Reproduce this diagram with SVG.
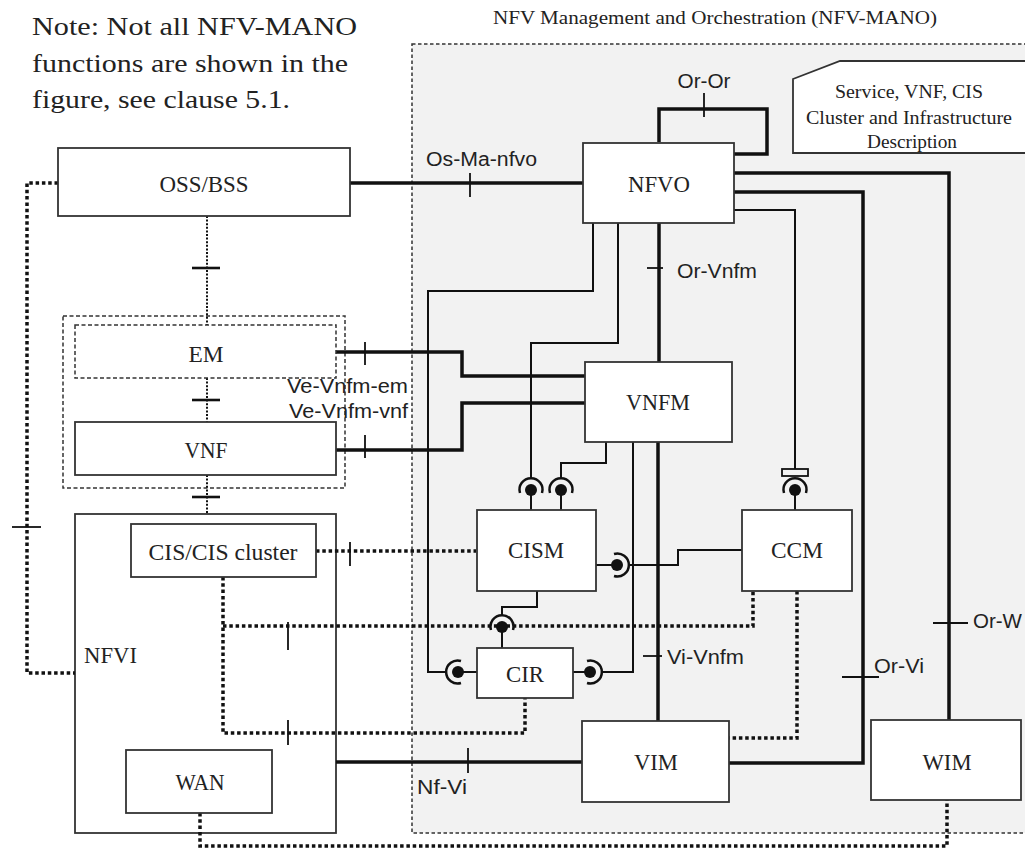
<svg xmlns="http://www.w3.org/2000/svg" width="1025" height="848" viewBox="0 0 1025 848">
<style>
.box{fill:#fff;stroke:#333;stroke-width:1.8}
.dbox{fill:#fff;stroke:#333;stroke-width:1.5;stroke-dasharray:4 2.5}
.serif{font-family:"Liberation Serif","Times New Roman",serif;fill:#222}
.sans{font-family:"Liberation Sans",Arial,sans-serif;fill:#222}
.thick{fill:none;stroke:#111;stroke-width:3.5}
.thin{fill:none;stroke:#111;stroke-width:2}
.dot{fill:none;stroke:#111;stroke-width:3.5;stroke-dasharray:3.5 2.8}
.fdot{fill:none;stroke:#111;stroke-width:2;stroke-dasharray:2 1.6}
.tick{fill:none;stroke:#111;stroke-width:1.8}
.btick{fill:none;stroke:#111;stroke-width:2.6}
</style>
<defs>
<g id="sock"><path d="M-11,3 A11.5,11.5 0 1 1 11,3" fill="none" stroke="#111" stroke-width="2.5"/><circle r="6" fill="#111"/></g>
</defs>
<rect x="0" y="0" width="1025" height="848" fill="#fff"/>

<g id="note">
<text class="serif" x="32" y="35" font-size="25" textLength="325" lengthAdjust="spacingAndGlyphs">Note: Not all NFV-MANO</text>
<text class="serif" x="32" y="72" font-size="25" textLength="316" lengthAdjust="spacingAndGlyphs">functions are shown in the</text>
<text class="serif" x="32" y="108" font-size="25" textLength="258" lengthAdjust="spacingAndGlyphs">figure, see clause 5.1.</text>
</g>

<g id="nfv-mano">
<rect x="412" y="44" width="700" height="789" fill="#f2f2f2" stroke="#333" stroke-width="1.5" stroke-dasharray="3.5 2.5"/>
<text class="serif" x="493" y="24" font-size="19" textLength="444" lengthAdjust="spacingAndGlyphs">NFV Management and Orchestration (NFV-MANO)</text>
</g>

<g id="descriptions">
<polygon points="793,79 840,61 1030,61 1030,153 793,153" fill="#fff" stroke="#333" stroke-width="1.8"/>
<text class="serif" x="909" y="98" font-size="19" text-anchor="middle" textLength="148" lengthAdjust="spacingAndGlyphs">Service, VNF, CIS</text>
<text class="serif" x="909" y="124" font-size="19" text-anchor="middle" textLength="206" lengthAdjust="spacingAndGlyphs">Cluster and Infrastructure</text>
<text class="serif" x="912" y="148" font-size="19" text-anchor="middle" textLength="90" lengthAdjust="spacingAndGlyphs">Description</text>
</g>

<g id="em-vnf-container">
<rect x="63" y="316" width="282" height="172" fill="none" stroke="#333" stroke-width="1.5" stroke-dasharray="4 2.5"/>
</g>

<g id="nfvi">
<rect class="box" x="75" y="514" width="261" height="319"/>
<text class="serif" x="84" y="663" font-size="24" textLength="53" lengthAdjust="spacingAndGlyphs">NFVI</text>
</g>

<g id="connectors">
<path class="thick" d="M350,183 H583"/>
<path class="thick" d="M659,142 V109 H767 V154 H734" stroke-width="4"/>
<path class="thick" d="M734,173 H949 V720"/>
<path class="thick" d="M734,192 H863 V763 H729"/>
<path class="thick" d="M659,223 V362"/>
<path class="thick" d="M658,442 V721"/>
<path class="thick" d="M336,352 H462 V376 H585"/>
<path class="thick" d="M336,450 H462 V403 H585"/>
<path class="thick" d="M336,762 H582"/>

<path class="thin" d="M593,223 V291 H428 V672 H446.5"/>
<path class="thin" d="M618,223 V343 H531 V478.5"/>
<path class="thin" d="M531,490 V510"/>
<path class="thin" d="M606,442 V463 H561 V478.5"/>
<path class="thin" d="M561,490 V510"/>
<path class="thin" d="M734,210 H795 V469"/>
<path class="thin" d="M795,490 V510"/>
<path class="thin" d="M596,565 H617"/>
<path class="thin" d="M628.5,565 H678 V550 H742"/>
<path class="thin" d="M537,591 V607 H502 V615.5"/>
<path class="thin" d="M502,627 V648"/>
<path class="thin" d="M477,672 H458"/>
<path class="thin" d="M573,672 H590"/>
<path class="thin" d="M601.5,672 H633 V442"/>

<path class="dot" d="M58,183 H27 V673 H75"/>
<path class="dot" d="M316,551 H476"/>
<path class="dot" d="M223,577 V733 H525 V698"/>
<path class="dot" d="M223,626 H753 V592"/>
<path class="dot" d="M797,591 V738 H729"/>
<path class="dot" d="M200,813 V846 H947 V800"/>

<path class="fdot" d="M207,216 V325"/>
<path class="fdot" d="M207,378 V422"/>
<path class="fdot" d="M207,475 V514"/>

<path class="tick" d="M470,173 V197"/>
<path class="tick" d="M704,93 V117"/>
<path class="tick" d="M647,268 H663"/>
<path class="tick" d="M643,656 H662"/>
<path class="tick" d="M933,623 H968"/>
<path class="tick" d="M842,677 H879"/>
<path class="tick" d="M468,748 V773"/>
<path class="tick" d="M365,342 V365"/>
<path class="tick" d="M365,435 V458"/>
<path class="tick" d="M350,542 V566"/>
<path class="tick" d="M288,622 V650"/>
<path class="tick" d="M288,720 V745"/>
<path class="tick" d="M12,527 H41"/>
<path class="btick" d="M192,268 H220"/>
<path class="btick" d="M192,400 H220"/>
<path class="btick" d="M192,497 H220"/>

<use href="#sock" transform="translate(531,490)"/>
<use href="#sock" transform="translate(561,490)"/>
<use href="#sock" transform="translate(795,490)"/>
<rect x="782" y="469" width="26" height="7" fill="#f2f2f2" stroke="#111" stroke-width="1.8"/>
<use href="#sock" transform="translate(617,565) rotate(90)"/>
<use href="#sock" transform="translate(502,627)"/>
<use href="#sock" transform="translate(458,672) rotate(-90)"/>
<use href="#sock" transform="translate(590,672) rotate(90)"/>

<text class="sans" x="426" y="166" font-size="20" textLength="111" lengthAdjust="spacingAndGlyphs">Os-Ma-nfvo</text>
<text class="sans" x="704" y="88" font-size="20" text-anchor="middle" textLength="53" lengthAdjust="spacingAndGlyphs">Or-Or</text>
<text class="sans" x="677" y="278" font-size="20" textLength="80" lengthAdjust="spacingAndGlyphs">Or-Vnfm</text>
<text class="sans" x="287" y="393" font-size="20" textLength="121" lengthAdjust="spacingAndGlyphs">Ve-Vnfm-em</text>
<text class="sans" x="289" y="418" font-size="20" textLength="119" lengthAdjust="spacingAndGlyphs">Ve-Vnfm-vnf</text>
<text class="sans" x="667" y="664" font-size="20" textLength="77" lengthAdjust="spacingAndGlyphs">Vi-Vnfm</text>
<text class="sans" x="973" y="628" font-size="20" textLength="49" lengthAdjust="spacingAndGlyphs">Or-W</text>
<text class="sans" x="874" y="673" font-size="20" textLength="50" lengthAdjust="spacingAndGlyphs">Or-Vi</text>
<text class="sans" x="417" y="794" font-size="20" textLength="50" lengthAdjust="spacingAndGlyphs">Nf-Vi</text>
</g>

<g id="oss-bss">
<rect class="box" x="58" y="148" width="292" height="68"/>
<text class="serif" x="204" y="192" font-size="24" text-anchor="middle" textLength="89" lengthAdjust="spacingAndGlyphs">OSS/BSS</text>
</g>
<g id="em">
<rect class="dbox" x="75" y="325" width="261" height="53"/>
<text class="serif" x="206" y="362" font-size="24" text-anchor="middle" textLength="35" lengthAdjust="spacingAndGlyphs">EM</text>
</g>
<g id="vnf">
<rect class="box" x="75" y="422" width="261" height="53"/>
<text class="serif" x="206" y="458" font-size="24" text-anchor="middle" textLength="43" lengthAdjust="spacingAndGlyphs">VNF</text>
</g>
<g id="cis-cluster">
<rect class="box" x="131" y="524" width="185" height="53"/>
<text class="serif" x="223" y="560" font-size="24" text-anchor="middle" textLength="149" lengthAdjust="spacingAndGlyphs">CIS/CIS cluster</text>
</g>
<g id="wan">
<rect class="box" x="126" y="750" width="146" height="63"/>
<text class="serif" x="200" y="790" font-size="24" text-anchor="middle" textLength="49" lengthAdjust="spacingAndGlyphs">WAN</text>
</g>
<g id="nfvo">
<rect class="box" x="583" y="143" width="151" height="80"/>
<text class="serif" x="659" y="192" font-size="24" text-anchor="middle" textLength="62" lengthAdjust="spacingAndGlyphs">NFVO</text>
</g>
<g id="vnfm">
<rect class="box" x="585" y="362" width="147" height="80"/>
<text class="serif" x="658" y="410" font-size="24" text-anchor="middle" textLength="64" lengthAdjust="spacingAndGlyphs">VNFM</text>
</g>
<g id="cism">
<rect class="box" x="477" y="510" width="119" height="81"/>
<text class="serif" x="536" y="558" font-size="24" text-anchor="middle" textLength="56" lengthAdjust="spacingAndGlyphs">CISM</text>
</g>
<g id="ccm">
<rect class="box" x="742" y="510" width="110" height="81"/>
<text class="serif" x="797" y="558" font-size="24" text-anchor="middle" textLength="52" lengthAdjust="spacingAndGlyphs">CCM</text>
</g>
<g id="cir">
<rect class="box" x="477" y="648" width="96" height="50"/>
<text class="serif" x="525" y="682" font-size="24" text-anchor="middle" textLength="38" lengthAdjust="spacingAndGlyphs">CIR</text>
</g>
<g id="vim">
<rect class="box" x="582" y="721" width="147" height="81"/>
<text class="serif" x="656" y="770" font-size="24" text-anchor="middle" textLength="44" lengthAdjust="spacingAndGlyphs">VIM</text>
</g>
<g id="wim">
<rect class="box" x="871" y="720" width="150" height="80"/>
<text class="serif" x="947" y="770" font-size="24" text-anchor="middle" textLength="49" lengthAdjust="spacingAndGlyphs">WIM</text>
</g>
</svg>
